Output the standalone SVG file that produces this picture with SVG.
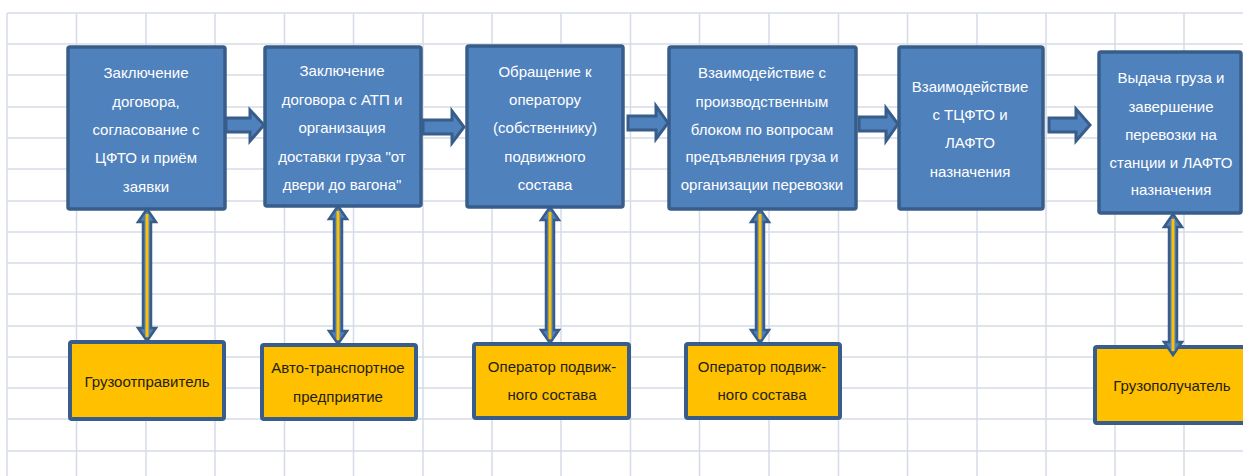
<svg xmlns="http://www.w3.org/2000/svg" width="1243" height="476" viewBox="0 0 1243 476">
<style>
.grid line{stroke:#d5dbe7;stroke-width:1.5}
.blue{fill:#4f81bd;stroke:#385d8a;stroke-width:3.5}
.org{fill:#ffc000;stroke:#385d8a;stroke-width:4}
.tw{font-family:"Liberation Sans",Arial,sans-serif;font-size:15px;fill:#ffffff;text-anchor:middle}
.td{font-family:"Liberation Sans",Arial,sans-serif;font-size:15px;fill:#1e1e14;text-anchor:middle}
.harr{fill:#4f81bd;stroke:#385d8a;stroke-width:3;stroke-linejoin:miter}
.varr{fill:#4f81bd;stroke:#385d8a;stroke-width:2.5}
.vline{stroke:#ffc000;stroke-width:3}
</style>
<rect width="1243" height="476" fill="#ffffff"/>
<g class="grid">
<line x1="7" y1="13" x2="1243" y2="13"/><line x1="7" y1="44" x2="1243" y2="44"/><line x1="7" y1="75" x2="1243" y2="75"/><line x1="7" y1="107" x2="1243" y2="107"/><line x1="7" y1="138" x2="1243" y2="138"/><line x1="7" y1="169" x2="1243" y2="169"/><line x1="7" y1="201" x2="1243" y2="201"/><line x1="7" y1="232" x2="1243" y2="232"/><line x1="7" y1="263" x2="1243" y2="263"/><line x1="7" y1="294" x2="1243" y2="294"/><line x1="7" y1="326" x2="1243" y2="326"/><line x1="7" y1="357" x2="1243" y2="357"/><line x1="7" y1="388" x2="1243" y2="388"/><line x1="7" y1="419" x2="1243" y2="419"/><line x1="7" y1="451" x2="1243" y2="451"/>
<line x1="7" y1="13" x2="7" y2="476"/><line x1="76.5" y1="13" x2="76.5" y2="476"/><line x1="146" y1="13" x2="146" y2="476"/><line x1="215" y1="13" x2="215" y2="476"/><line x1="284.5" y1="13" x2="284.5" y2="476"/><line x1="353.5" y1="13" x2="353.5" y2="476"/><line x1="423" y1="13" x2="423" y2="476"/><line x1="492" y1="13" x2="492" y2="476"/><line x1="561" y1="13" x2="561" y2="476"/><line x1="630.5" y1="13" x2="630.5" y2="476"/><line x1="699.5" y1="13" x2="699.5" y2="476"/><line x1="769" y1="13" x2="769" y2="476"/><line x1="838.5" y1="13" x2="838.5" y2="476"/><line x1="907.5" y1="13" x2="907.5" y2="476"/><line x1="977" y1="13" x2="977" y2="476"/><line x1="1046" y1="13" x2="1046" y2="476"/><line x1="1115" y1="13" x2="1115" y2="476"/><line x1="1184" y1="13" x2="1184" y2="476"/>
</g>
<g id="node-b1">
<rect class="blue" x="68" y="47" width="157" height="162" rx="2"/>
<text class="tw"><tspan x="146" y="78">Заключение</tspan><tspan x="146" y="107">договора,</tspan><tspan x="146" y="135">согласование с</tspan><tspan x="146" y="163">ЦФТО  и приём</tspan><tspan x="146" y="192">заявки</tspan></text>
</g>
<g id="node-b2">
<rect class="blue" x="265" y="47" width="156" height="159" rx="2"/>
<text class="tw"><tspan x="342" y="76">Заключение</tspan><tspan x="342" y="105">договора с АТП и</tspan><tspan x="342" y="133">организация</tspan><tspan x="342" y="162">доставки груза "от</tspan><tspan x="342" y="190">двери до вагона"</tspan></text>
</g>
<g id="node-b3">
<rect class="blue" x="467" y="46" width="156" height="161" rx="2"/>
<text class="tw"><tspan x="545" y="77">Обращение к</tspan><tspan x="545" y="105">оператору</tspan><tspan x="545" y="133">(собственнику)</tspan><tspan x="545" y="162">подвижного</tspan><tspan x="545" y="190">состава</tspan></text>
</g>
<g id="node-b4">
<rect class="blue" x="669" y="47" width="187" height="162" rx="2"/>
<text class="tw"><tspan x="762" y="78">Взаимодействие с</tspan><tspan x="762" y="107">производственным</tspan><tspan x="762" y="135">блоком по вопросам</tspan><tspan x="762" y="162">предъявления груза и</tspan><tspan x="762" y="190">организации перевозки</tspan></text>
</g>
<g id="node-b5">
<rect class="blue" x="899" y="47" width="144" height="162" rx="2"/>
<text class="tw"><tspan x="970" y="92">Взаимодействие</tspan><tspan x="970" y="120">с ТЦФТО  и</tspan><tspan x="970" y="148">ЛАФТО</tspan><tspan x="970" y="177">назначения</tspan></text>
</g>
<g id="node-b6">
<rect class="blue" x="1099" y="52" width="142" height="161" rx="2"/>
<text class="tw"><tspan x="1171" y="83">Выдача груза и</tspan><tspan x="1171" y="112">завершение</tspan><tspan x="1171" y="140">перевозки на</tspan><tspan x="1171" y="168">станции и ЛАФТО</tspan><tspan x="1171" y="195">назначения</tspan></text>
</g>
<g id="node-o1">
<rect class="org" x="70" y="342" width="154" height="77" rx="2"/>
<text class="td" x="147" y="387">Грузоотправитель</text>
</g>
<g id="node-o2">
<rect class="org" x="262" y="345" width="154" height="74" rx="2"/>
<text class="td"><tspan x="338" y="373">Авто-транспортное</tspan><tspan x="338" y="402">предприятие</tspan></text>
</g>
<g id="node-o3">
<rect class="org" x="474" y="344" width="155" height="74" rx="2"/>
<text class="td"><tspan x="552" y="372">Оператор подвиж-</tspan><tspan x="552" y="400">ного состава</tspan></text>
</g>
<g id="node-o4">
<rect class="org" x="686" y="344" width="154" height="74" rx="2"/>
<text class="td"><tspan x="762" y="372">Оператор подвиж-</tspan><tspan x="762" y="400">ного состава</tspan></text>
</g>
<g id="node-o5">
<rect class="org" x="1095" y="347" width="160" height="76" rx="2"/>
<text class="td" x="1172" y="391">Грузополучатель</text>
</g>
<g id="connectors">
<path class="harr" d="M226,118 H250 V110 L264,125 L250,141 V132 H226 Z"/>
<path class="harr" d="M423,120 H452 V111 L464,127 L452,143 V134 H423 Z"/>
<path class="harr" d="M628,116 H656 V106 L668,123 L656,139 V130 H628 Z"/>
<path class="harr" d="M859,117 H886 V108 L898,124 L886,141 V131 H859 Z"/>
<path class="harr" d="M1049,118 H1076 V109 L1090,125 L1076,141 V132 H1049 Z"/>
<g>
<path class="varr" d="M147,209 L156,222 H151 V328 H156 L147,341 L138,328 H143 V222 H138 Z"/>
<line class="vline" x1="147" y1="214" x2="147" y2="337"/>
</g>
<g>
<path class="varr" d="M338,206 L347,219 H342 V331 H347 L338,344 L329,331 H334 V219 H329 Z"/>
<line class="vline" x1="338" y1="211" x2="338" y2="340"/>
</g>
<g>
<path class="varr" d="M550,207 L559,220 H554 V330 H559 L550,343 L541,330 H546 V220 H541 Z"/>
<line class="vline" x1="550" y1="212" x2="550" y2="339"/>
</g>
<g>
<path class="varr" d="M760,209 L769,222 H764 V330 H769 L760,343 L751,330 H756 V222 H751 Z"/>
<line class="vline" x1="760" y1="214" x2="760" y2="339"/>
</g>
<g>
<path class="varr" d="M1173,214 L1182,227 H1177 V342 H1182 L1173,355 L1164,342 H1169 V227 H1164 Z"/>
<line class="vline" x1="1173" y1="219" x2="1173" y2="351"/>
</g>
</g>
</svg>
